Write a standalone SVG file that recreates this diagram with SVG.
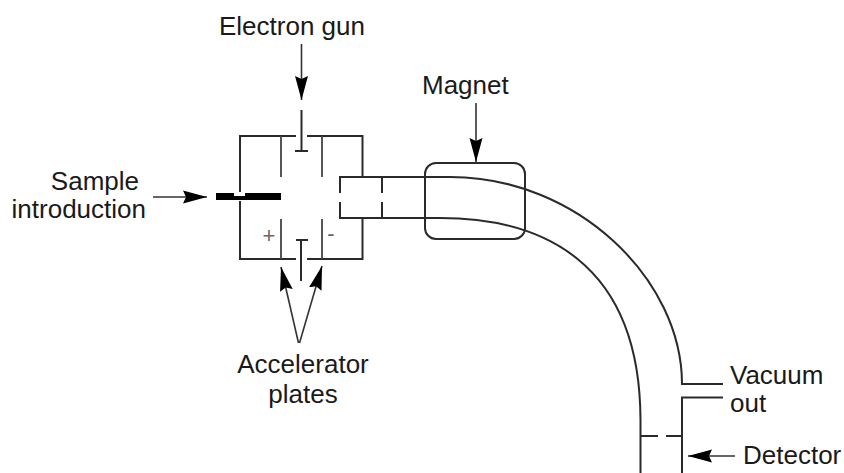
<svg xmlns="http://www.w3.org/2000/svg" width="844" height="473" viewBox="0 0 844 473">
<style>
.l{fill:none;stroke:#2a2a2a;stroke-width:2}
.a{fill:none;stroke:#333;stroke-width:1.600}
.p{fill:none;stroke:#444;stroke-width:1.800}
text{font-family:"Liberation Sans",Arial,sans-serif;font-size:26px;fill:#1a1a1a}
text.s{font-size:22px;fill:#666;text-anchor:middle}
</style>
<defs>
<marker id="h" markerUnits="userSpaceOnUse" markerWidth="25" markerHeight="14" refX="24" refY="7" orient="auto"><path d="M0 0.500L24 7L0 13.500L3 7Z" fill="#000"/></marker>
</defs>
<rect width="844" height="473" fill="#fff"/>
<g id="chamber">
<path class="l" d="M296 136H240V192M240 201V259H296M307 259H362.500V218M362.500 177V136H307"/>
<path class="p" d="M281 136V177M322 136V177M281 219V259M322 219V259"/>
<path class="l" d="M301.500 110V151M295 151H308M301 240V281M296 240H308"/>
<path d="M216 193H234V196H245V193H281V200H216Z" fill="#000"/>
<text class="s" x="269" y="242.500">+</text>
<text class="s" x="331" y="240.500">-</text>
</g>
<g id="tube">
<path class="l" d="M340 193V177H450C578 177 682 280 682 384H723M340 202V218H440C540 218 640 260 640.500 420V473M682 473V397.500H723"/>
<path class="l" d="M382 177V193M382 202V218M641 436H658M666 436H682"/>
</g>
<g id="magnet">
<rect class="l" x="425" y="163" width="100" height="76" rx="11"/>
</g>
<g id="connectors">
<path class="a" marker-end="url(#h)" d="M301.500 44V100"/>
<path class="a" marker-end="url(#h)" d="M476 103V162"/>
<path class="a" marker-end="url(#h)" d="M153 197H207"/>
<path class="a" marker-end="url(#h)" d="M298.500 343L281 267"/>
<path class="a" marker-end="url(#h)" d="M299.500 343L322 266"/>
<path class="a" marker-end="url(#h)" d="M735 456H688"/>
</g>
<g id="labels">
<text x="219" y="34.500">Electron gun</text>
<text x="422" y="93.500">Magnet</text>
<text x="139" y="190" text-anchor="end">Sample</text>
<text x="146" y="218" text-anchor="end">introduction</text>
<text x="303" y="373" text-anchor="middle">Accelerator</text>
<text x="303" y="403" text-anchor="middle">plates</text>
<text x="730" y="384">Vacuum</text>
<text x="730" y="412">out</text>
<text x="743" y="464">Detector</text>
</g>
</svg>
